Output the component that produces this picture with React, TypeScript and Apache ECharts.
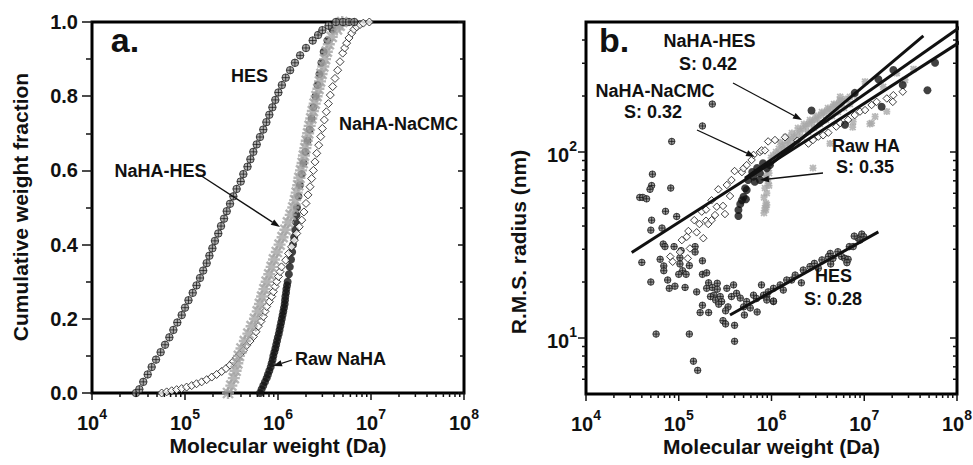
import React, { useEffect, useRef } from 'react';
import * as echarts from 'echarts';

const FONT = '"Liberation Sans", Arial, Helvetica, sans-serif';
const INK = '#111';

// ---------- Panel a: cumulative weight fraction vs molecular weight ----------
const hesA: [number, number][] = [
  [2.97e4, 0], [3.23e4, 0.01], [3.56e4, 0.03], [3.97e4, 0.05], [4.38e4, 0.07], [4.88e4, 0.09], [5.47e4, 0.11],
  [6.1e4, 0.13], [6.79e4, 0.15], [7.5e4, 0.17], [8.27e4, 0.19], [9.21e4, 0.21], [1.0e5, 0.23], [1.09e5, 0.25],
  [1.21e5, 0.27], [1.33e5, 0.29], [1.45e5, 0.31], [1.57e5, 0.33], [1.71e5, 0.35], [1.83e5, 0.37], [1.97e5, 0.39],
  [2.1e5, 0.41], [2.28e5, 0.43], [2.44e5, 0.45], [2.63e5, 0.47], [2.81e5, 0.49], [3.05e5, 0.51], [3.31e5, 0.53],
  [3.59e5, 0.55], [3.97e5, 0.57], [4.24e5, 0.59], [4.7e5, 0.61], [5.05e5, 0.63], [5.43e5, 0.65], [5.9e5, 0.67],
  [6.4e5, 0.69], [6.95e5, 0.71], [7.5e5, 0.73], [8.07e5, 0.75], [8.7e5, 0.77], [9.36e5, 0.79], [1.01e6, 0.81],
  [1.1e6, 0.83], [1.21e6, 0.85], [1.35e6, 0.87], [1.52e6, 0.89], [1.73e6, 0.91], [2.0e6, 0.93], [2.36e6, 0.95],
  [2.7e6, 0.965], [3.0e6, 0.978], [3.5e6, 0.99], [4.2e6, 1.0], [5.0e6, 1.0], [5.8e6, 1.0], [6.6e6, 1.0],
];

const cmcA: [number, number][] = [
  [5.61e4, 0], [6.35e4, 0.003], [7.19e4, 0.006], [8.13e4, 0.009], [9.21e4, 0.012], [1.04e5, 0.016], [1.18e5, 0.02],
  [1.33e5, 0.025], [1.51e5, 0.03], [1.71e5, 0.036], [1.94e5, 0.043], [2.19e5, 0.05], [2.48e5, 0.058], [2.76e5, 0.066],
  [3.05e5, 0.075], [3.31e5, 0.085], [3.59e5, 0.095], [3.9e5, 0.105], [4.24e5, 0.115], [4.6e5, 0.128], [5.0e5, 0.14],
  [5.43e5, 0.152], [5.8e5, 0.165], [6.15e5, 0.18], [6.56e5, 0.193], [6.95e5, 0.206], [7.25e5, 0.22], [7.55e5, 0.233],
  [8.07e5, 0.246], [8.55e5, 0.26], [8.91e5, 0.273], [9.29e5, 0.287], [9.68e5, 0.3], [1.01e6, 0.314], [1.05e6, 0.327],
  [1.09e6, 0.34], [1.21e6, 0.358], [1.3e6, 0.376], [1.4e6, 0.394], [1.5e6, 0.412], [1.59e6, 0.43], [1.69e6, 0.448],
  [1.8e6, 0.466], [1.9e6, 0.488], [2.0e6, 0.511], [2.1e6, 0.534], [2.21e6, 0.556], [2.3e6, 0.578], [2.4e6, 0.6],
  [2.5e6, 0.623], [2.61e6, 0.646], [2.74e6, 0.668], [2.88e6, 0.691], [3.0e6, 0.713], [3.15e6, 0.736], [3.31e6, 0.758],
  [3.48e6, 0.78], [3.65e6, 0.803], [3.87e6, 0.826], [4.1e6, 0.848], [4.38e6, 0.87], [4.64e6, 0.893], [4.96e6, 0.916],
  [5.21e6, 0.93], [5.47e6, 0.943], [5.8e6, 0.957], [6.2e6, 0.97], [6.56e6, 0.98], [7.01e6, 0.987], [7.62e6, 0.993],
  [8.27e6, 0.997], [9.6e6, 1.0],
];

const nahaHesA: [number, number][] = [
  [2.9e5, 0], [3.15e5, 0.02], [3.35e5, 0.04], [3.5e5, 0.06], [3.65e5, 0.08], [3.8e5, 0.1], [4.05e5, 0.12],
  [4.4e5, 0.14], [4.8e5, 0.16], [5.2e5, 0.18], [5.65e5, 0.2], [6.05e5, 0.22], [6.4e5, 0.24], [6.75e5, 0.26],
  [7.15e5, 0.28], [7.55e5, 0.3], [8.05e5, 0.32], [8.55e5, 0.34], [9.05e5, 0.36], [9.7e5, 0.38], [1.04e6, 0.4],
  [1.12e6, 0.42], [1.2e6, 0.44], [1.28e6, 0.46], [1.37e6, 0.48], [1.46e6, 0.5], [1.53e6, 0.52], [1.59e6, 0.54],
  [1.65e6, 0.56], [1.7e6, 0.58], [1.77e6, 0.6], [1.84e6, 0.62], [1.9e6, 0.64], [1.97e6, 0.66], [2.04e6, 0.68],
  [2.11e6, 0.7], [2.19e6, 0.72], [2.28e6, 0.74], [2.37e6, 0.76], [2.48e6, 0.78], [2.6e6, 0.8], [2.72e6, 0.82],
  [2.83e6, 0.84], [2.94e6, 0.86], [3.07e6, 0.88], [3.2e6, 0.9], [3.35e6, 0.92], [3.52e6, 0.94], [3.78e6, 0.96],
  [4.3e6, 0.98], [4.6e6, 0.99], [4.9e6, 1.0],
];

const rawA: [number, number][] = [
  [6.4e5, 0], [6.67e5, 0.01], [6.95e5, 0.02], [7.25e5, 0.03], [7.55e5, 0.04], [7.8e5, 0.05], [8.07e5, 0.06],
  [8.34e5, 0.07], [8.55e5, 0.08], [8.76e5, 0.09], [8.91e5, 0.1], [9.13e5, 0.11], [9.36e5, 0.12], [9.56e5, 0.13],
  [9.76e5, 0.14], [9.96e5, 0.15], [1.02e6, 0.16], [1.04e6, 0.17], [1.06e6, 0.18], [1.08e6, 0.19], [1.1e6, 0.2],
  [1.12e6, 0.21], [1.14e6, 0.22], [1.16e6, 0.23], [1.18e6, 0.24], [1.19e6, 0.25], [1.2e6, 0.26], [1.22e6, 0.27],
  [1.23e6, 0.28], [1.25e6, 0.29], [1.27e6, 0.3], [1.31e6, 0.32], [1.34e6, 0.34], [1.38e6, 0.36], [1.42e6, 0.38],
  [1.45e6, 0.4], [1.49e6, 0.42], [1.53e6, 0.44], [1.56e6, 0.46], [1.58e6, 0.48], [1.6e6, 0.5], [1.66e6, 0.53],
  [1.72e6, 0.56], [1.8e6, 0.59], [1.88e6, 0.62], [1.97e6, 0.65], [2.08e6, 0.68], [2.19e6, 0.71], [2.3e6, 0.74],
  [2.4e6, 0.77], [2.53e6, 0.8], [2.66e6, 0.83], [2.8e6, 0.86], [2.93e6, 0.89], [3.1e6, 0.92], [3.4e6, 0.95],
  [3.85e6, 0.98], [4.5e6, 1.0],
];

// ---------- Panel b: R.M.S. radius vs molecular weight ----------
const hesB: [number, number][] = [
  [2.3e5, 181], [1.8e5, 138], [8.4e4, 114], [5.2e4, 76], [5.1e4, 66], [4.9e4, 63], [3.8e4, 57], [4.1e4, 57],
  [4.5e4, 56], [8.2e4, 64], [7.2e4, 48], [9.5e4, 45], [5.1e4, 43], [5.0e4, 38], [6.6e4, 39], [6.8e4, 32],
  [7.1e4, 31], [8.9e4, 31], [1.06e5, 29.5], [1.03e5, 27], [1.5e5, 31], [1.5e5, 29], [4.0e4, 25.5], [6.3e4, 26.5],
  [6.9e4, 24.4], [6.9e4, 23], [1.03e5, 25], [1.1e5, 23], [1.0e5, 22], [1.2e5, 22], [1.3e5, 24.5], [1.8e5, 26],
  [1.8e5, 22], [2.0e5, 22.4], [5.0e4, 20], [7.6e4, 20.5], [7.9e4, 18.5], [9.1e4, 19], [1.17e5, 18.7], [1.56e5, 17.7],
  [2.1e5, 19.8], [2.0e5, 18.5], [2.3e5, 18.7], [2.6e5, 19.7], [2.6e5, 18.3], [2.4e5, 17], [2.2e5, 16.7], [2.5e5, 16],
  [2.8e5, 16.7], [2.9e5, 15.7], [2.7e5, 15.2], [3.3e5, 18.5], [3.9e5, 19.3], [3.7e5, 16.7], [3.4e5, 14.7],
  [4.2e5, 17.4], [4.6e5, 16.4], [5.0e5, 14.7], [5.4e5, 15.7], [6.4e5, 17], [6.9e5, 16.3], [7.8e5, 19.3],
  [8.9e5, 16.7], [1.05e6, 15.7], [1.8e5, 15], [1.7e5, 13.7], [2.1e5, 13.7], [3.2e5, 14], [3.0e5, 12.4],
  [3.2e5, 11.9], [4.0e5, 11.7], [5.1e5, 13.3], [5.7e4, 10.5], [1.3e5, 10.5], [4.0e5, 9.6], [1.44e5, 7.5],
  [1.6e5, 6.7], [1.34e6, 18.1], [1.65e6, 20.5], [2.1e6, 19.8], [9.2e5, 17.7], [8.2e5, 17], [1.05e6, 18.5],
  [1.24e6, 19.3], [1.46e6, 20.5], [1.8e6, 21.8], [2.2e6, 23.2], [2.6e6, 24.2], [2.9e6, 25.2], [3.5e6, 26.3],
  [3.2e6, 23.7], [4.3e6, 28.5], [4.1e6, 27.4], [4.35e6, 25], [5.2e6, 29.1], [4.6e6, 26.8], [5.7e6, 27.4],
  [6.2e6, 26.8], [6.7e6, 26.5], [6.5e6, 25.4], [6.9e6, 31], [7.6e6, 31], [8.6e6, 34.4], [7.8e6, 35.3],
  [9.4e6, 36.2], [9.9e6, 35], [9.0e6, 33.6], [8.9e5, 16], [1.05e6, 15.8], [5.9e5, 14.5], [7.0e5, 13.8],
];

const cmcB: [number, number][] = [
  [8.1e4, 27.4], [8.6e4, 25.7], [1.08e5, 33.6], [1.22e5, 35], [1.25e5, 26.8], [1.32e5, 30.3], [1.27e5, 37.6],
  [1.47e5, 43], [1.56e5, 37], [1.67e5, 41], [1.77e5, 47.8], [1.84e5, 34.4], [1.97e5, 49], [1.97e5, 42.7],
  [2.08e5, 41], [2.26e5, 43], [2.46e5, 45.8], [2.57e5, 50.8], [3.0e5, 51.3], [3.15e5, 46.4], [2.26e5, 55],
  [2.67e5, 63], [3.3e5, 66.5], [3.57e5, 58], [3.7e5, 70.7], [4.0e5, 79], [4.8e5, 78], [5.0e5, 81.7], [5.4e5, 85],
  [6.1e5, 90.6], [6.4e5, 96.4], [7.5e5, 100], [7.8e5, 102], [8.5e5, 102], [9.2e5, 114], [1.09e6, 116],
  [1.4e6, 120], [1.9e6, 115], [2.5e6, 111], [2.8e6, 116], [3.2e6, 121], [3.6e6, 123], [4.1e6, 127], [5.0e6, 137],
  [5.5e6, 143], [6.7e6, 149], [7.9e6, 158], [9.0e6, 165], [1.02e7, 168], [1.2e7, 179], [1.36e7, 186],
  [1.75e7, 194], [2.06e7, 202], [2.03e7, 186], [2.6e7, 211], [1.03e5, 29],
];

const nahaHesB: [number, number][] = [
  [8.3e5, 47], [8.5e5, 50], [8.7e5, 53], [8.3e5, 57], [8.9e5, 60], [8.5e5, 64], [9.2e5, 68], [8.9e5, 72.5],
  [9.4e5, 77], [9.2e5, 82], [9.6e5, 87], [9.9e5, 93], [1.04e6, 96], [1.12e6, 100], [1.2e6, 104], [1.3e6, 108],
  [1.4e6, 110], [1.51e6, 115], [1.62e6, 117.5], [1.75e6, 120.5], [1.88e6, 125], [2.03e6, 130], [2.19e6, 133],
  [2.35e6, 138], [2.54e6, 141.5], [2.73e6, 145], [2.94e6, 148.6], [3.17e6, 152], [3.42e6, 158], [3.68e6, 162],
  [3.96e6, 166], [4.27e6, 170], [4.6e6, 175], [4.96e6, 179], [5.34e6, 183], [5.75e6, 188], [6.36e6, 193],
  [7.0e6, 198], [7.9e6, 202], [1.17e6, 96], [1.36e6, 102.5], [1.58e6, 109], [1.84e6, 115], [2.13e6, 120.5],
  [2.48e6, 128], [2.87e6, 135], [3.33e6, 141.5], [3.87e6, 148.6], [4.49e6, 156], [5.21e6, 164], [6.05e6, 172.5],
  [7.0e6, 181], [1.24e6, 113], [1.43e6, 120.5], [1.66e6, 126.5], [1.93e6, 134.6], [2.24e6, 141.5], [2.6e6, 148.6],
  [3.02e6, 156], [3.5e6, 164], [4.06e6, 172.5], [4.72e6, 181], [5.48e6, 190], [1.02e7, 239], [1.6e7, 224],
  [3.4e7, 279], [1.31e7, 155], [1.15e7, 141.5], [1.75e7, 165], [7.5e6, 136], [7.6e6, 145.5], [2.8e6, 82],
  [4.27e6, 111], [2.24e7, 265], [1.2e7, 143], [2.75e7, 244], [5.5e6, 198], [8.7e5, 75], [9.4e5, 66], [8.9e5, 52],
  [8.7e5, 49],
];

const rawB: [number, number][] = [
  [4.4e5, 48.8], [4.4e5, 45.3], [4.6e5, 52.5], [4.8e5, 55], [5.0e5, 57.5], [5.3e5, 55.7], [5.4e5, 62.5],
  [5.2e5, 63.8], [5.6e5, 70.7], [6.4e5, 73.7], [6.6e5, 69.2], [7.5e5, 76.8], [7.5e5, 70.7], [8.9e5, 81.7],
  [9.6e5, 85], [6.2e5, 78], [7.0e5, 82], [8.1e5, 87], [2.7e6, 167], [7.9e6, 208], [1.42e7, 246], [2.06e7, 276],
  [5.8e7, 302], [4.8e7, 215], [2.6e7, 229], [1.54e7, 175], [6.2e6, 140],
];

// power-law fits (start and end of each drawn line)
const fitNaCMC: [number, number][] = [[3.11e4, 28.8], [1.49e8, 433]];
const fitRawHA: [number, number][] = [[5.18e5, 72.3], [1.49e8, 525]];
const fitNaHAHES: [number, number][] = [[9.64e5, 85.1], [4.34e7, 421]];
const fitHES: [number, number][] = [[3.57e5, 13.3], [1.42e7, 37.2]];

const yTicksA = [0, 0.2, 0.4, 0.6, 0.8, 1.0];
const decadesX = [1e4, 1e5, 1e6, 1e7, 1e8];
const minorMult = [2, 3, 4, 5, 6, 7, 8, 9];
const yMajorB = [10, 100];
const yMinorB = [6, 7, 8, 9, 20, 30, 40, 50, 60, 70, 80, 90, 200, 300, 400];

const HES_SYMBOL = 'path://M10,0 A10,10 0 1,1 -10,0 A10,10 0 1,1 10,0 Z M-10,0 L10,0 M0,-10 L0,10';
const STAR_SYMBOL = 'path://M0,0 L10,10 M10,0 L0,10 M5,-1 L5,11 M-1,5 L11,5';

const logLabel = (v: number) => {
  const e = Math.log10(v);
  const r = Math.round(e);
  if (Math.abs(e - r) > 1e-6) return '';
  return `{b|10}{s|${r}}`;
};

const richLabel = {
  b: { fontFamily: FONT, fontWeight: 700, fontSize: 20, color: INK, verticalAlign: 'bottom', lineHeight: 26 },
  s: { fontFamily: FONT, fontWeight: 700, fontSize: 14, color: INK, verticalAlign: 'top', lineHeight: 26 },
};

function tickSeries(xIdx: number, yIdx: number, data: number[][]) {
  return {
    type: 'custom',
    xAxisIndex: xIdx,
    yAxisIndex: yIdx,
    clip: false,
    silent: true,
    z: 5,
    data,
    renderItem: (_p: any, api: any) => {
      const p = api.coord([api.value(0), api.value(1)]);
      const len = api.value(2);
      const dir = api.value(3); // 0 = vertical (downwards), 1 = horizontal (leftwards)
      const shape = dir === 0
        ? { x1: p[0], y1: p[1], x2: p[0], y2: p[1] + len }
        : { x1: p[0] - len, y1: p[1], x2: p[0], y2: p[1] };
      return { type: 'line', shape, style: { stroke: INK, lineWidth: 1.5 } };
    },
  };
}

function arrow(x1: number, y1: number, x2: number, y2: number) {
  const dx = x2 - x1, dy = y2 - y1;
  const L = Math.hypot(dx, dy);
  const ux = dx / L, uy = dy / L;
  const hl = 9, hw = 3.2;
  const bx = x2 - ux * hl, by = y2 - uy * hl;
  return [
    { type: 'line', shape: { x1, y1, x2: bx, y2: by }, style: { stroke: INK, lineWidth: 1.3 }, z: 20 },
    {
      type: 'polygon',
      shape: { points: [[x2, y2], [bx - uy * hw, by + ux * hw], [bx + uy * hw, by - ux * hw]] },
      style: { fill: INK }, z: 20,
    },
  ];
}

function label(text: string, x: number, y: number, size = 18, rotation = 0) {
  return {
    type: 'text', x, y, rotation, z: 30,
    style: {
      text, fill: INK, fontFamily: FONT, fontWeight: 'bold', fontSize: size,
      textAlign: 'center', textVerticalAlign: 'middle',
    },
  };
}

export default function App() {
  const ref = useRef<HTMLDivElement>(null);
  useEffect(() => {
    if (!ref.current) return;
    const chart = echarts.init(ref.current, undefined, { renderer: 'svg' });

    const xTicksA: number[][] = [];
    const xTicksB: number[][] = [];
    decadesX.forEach((d) => {
      xTicksA.push([d, 0, 7, 0]);
      xTicksB.push([d, 5, 7, 0]);
      if (d < 1e8) minorMult.forEach((m) => { xTicksA.push([m * d, 0, 4, 0]); xTicksB.push([m * d, 5, 4, 0]); });
    });
    const yTicksB: number[][] = [];
    yMajorB.forEach((v) => { yTicksB.push([1e4, v, 8, 1]); yTicksB.push([1e8, v, 7, 1]); });
    yMinorB.forEach((v) => { yTicksB.push([1e4, v, 4, 1]); yTicksB.push([1e8, v, 4, 1]); });

    const logX = (gridIndex: number) => ({
      type: 'log', logBase: 10, gridIndex, min: 1e4, max: 1e8,
      axisLine: { show: false }, axisTick: { show: false }, splitLine: { show: false },
      axisLabel: { margin: 14, fontWeight: 700, fontSize: 20, fontFamily: FONT, color: INK, formatter: logLabel, rich: richLabel },
      name: 'Molecular weight (Da)', nameLocation: 'middle', nameGap: 42, nameMoveOverlap: false,
      nameTextStyle: { fontFamily: FONT, fontWeight: 'bold', fontSize: 21, color: INK },
    });

    const gridBase = {
      show: true, borderColor: '#000', borderWidth: 3, backgroundColor: 'transparent',
      containLabel: false, outerBoundsMode: 'none',
    };

    const option: any = {
      animation: false,
      backgroundColor: '#fff',
      grid: [
        { ...gridBase, left: 92, top: 22, width: 372, height: 371 },
        { ...gridBase, left: 586, top: 22, width: 371, height: 372 },
      ],
      xAxis: [logX(0), logX(1)],
      yAxis: [
        {
          type: 'value', gridIndex: 0, min: 0, max: 1, interval: 0.2, position: 'left',
          axisLine: { show: false }, splitLine: { show: false },
          axisTick: { show: true, length: 10, lineStyle: { color: INK, width: 1.5 } },
          minorTick: { show: true, splitNumber: 2, length: 6, lineStyle: { color: INK, width: 1.5 } },
          axisLabel: {
            margin: 14, fontFamily: FONT, fontWeight: 'bold', fontSize: 20, color: INK,
            formatter: (v: number) => (yTicksA.some((t) => Math.abs(t - v) < 1e-9) ? v.toFixed(1) : ''),
          },
        },
        {
          type: 'value', gridIndex: 0, min: 0, max: 1, interval: 0.2, position: 'right',
          axisLine: { show: false }, splitLine: { show: false },
          axisTick: { show: true, inside: true, length: 6, lineStyle: { color: INK, width: 1.5 } },
          minorTick: { show: true, splitNumber: 2, length: 4, lineStyle: { color: INK, width: 1.5 } },
          axisLabel: { show: false },
        },
        {
          type: 'log', logBase: 10, gridIndex: 1, min: 5, max: 500, position: 'left',
          axisLine: { show: false }, axisTick: { show: false }, splitLine: { show: false },
          axisLabel: { margin: 9, fontWeight: 700, fontSize: 20, fontFamily: FONT, color: INK, formatter: logLabel, rich: richLabel },
        },
      ],
      series: [
        // panel a
        {
          name: 'Raw NaHA', type: 'scatter', xAxisIndex: 0, yAxisIndex: 0, data: rawA, clip: false,
          symbol: 'circle', symbolSize: 8, itemStyle: { color: '#111' },
        },
        {
          name: 'NaHA-NaCMC', type: 'scatter', xAxisIndex: 0, yAxisIndex: 0, data: cmcA, clip: false,
          symbol: 'diamond', symbolSize: 8, itemStyle: { color: '#fff', borderColor: '#111', borderWidth: 1 },
        },
        {
          name: 'NaHA-HES', type: 'scatter', xAxisIndex: 0, yAxisIndex: 0, data: nahaHesA, clip: false,
          symbol: STAR_SYMBOL, symbolSize: 12, itemStyle: { color: '#a3a3a3', borderColor: '#a3a3a3', borderWidth: 2.4 },
        },
        {
          name: 'HES', type: 'scatter', xAxisIndex: 0, yAxisIndex: 0, data: hesA, clip: false,
          symbol: HES_SYMBOL, symbolSize: 7.5, itemStyle: { color: '#9a9a9a', borderColor: '#111', borderWidth: 0.9 },
        },
        // panel b
        {
          name: 'HES b', type: 'scatter', xAxisIndex: 1, yAxisIndex: 2, data: hesB, clip: false,
          symbol: HES_SYMBOL, symbolSize: 6.5, itemStyle: { color: '#808080', borderColor: '#111', borderWidth: 0.9 },
        },
        {
          name: 'NaHA-HES b', type: 'scatter', xAxisIndex: 1, yAxisIndex: 2, data: nahaHesB, clip: false,
          symbol: STAR_SYMBOL, symbolSize: 7, itemStyle: { color: '#a8a8a8', borderColor: '#a8a8a8', borderWidth: 1.8 },
        },
        {
          name: 'NaHA-NaCMC b', type: 'scatter', xAxisIndex: 1, yAxisIndex: 2, data: cmcB, clip: false,
          symbol: 'diamond', symbolSize: 7.5, itemStyle: { color: '#fff', borderColor: '#111', borderWidth: 1 },
        },
        {
          name: 'Raw HA b', type: 'scatter', xAxisIndex: 1, yAxisIndex: 2, data: rawB, clip: false,
          symbol: 'circle', symbolSize: 8, itemStyle: { color: '#111' },
        },
        ...[fitNaCMC, fitRawHA, fitNaHAHES, fitHES].map((d) => ({
          type: 'line', xAxisIndex: 1, yAxisIndex: 2, data: d, clip: false, symbol: 'none', silent: true,
          lineStyle: { color: '#111', width: 3 }, z: 4,
        })),
        tickSeries(0, 0, xTicksA),
        tickSeries(1, 2, xTicksB),
        tickSeries(1, 2, yTicksB),
      ],
      graphic: [
        label('a.', 125, 40, 34),
        label('b.', 614, 40, 34),
        label('Cumulative weight fraction', 20, 207, 21, Math.PI / 2),
        label('R.M.S. radius (nm)', 518, 242, 21, Math.PI / 2),
        label('HES', 249.5, 75.5),
        label('NaHA-NaCMC', 398.5, 123.5),
        label('NaHA-HES', 160.5, 170.5),
        label('Raw NaHA', 340.5, 358.5),
        ...arrow(200, 175, 280, 227),
        ...arrow(292, 360, 273, 366),
        label('NaHA-HES', 709.5, 40.5),
        label('S: 0.42', 708, 63.5),
        label('NaHA-NaCMC', 655, 90.5),
        label('S: 0.32', 653, 111.5),
        label('Raw HA', 866, 145.5),
        label('S: 0.35', 865, 166.5),
        label('HES', 833.5, 275.5),
        label('S: 0.28', 833, 298.5),
        ...arrow(733, 83, 802, 120),
        ...arrow(697, 130, 755, 157),
        ...arrow(823, 173, 760, 180),
      ],
    };
    chart.setOption(option);
    return () => chart.dispose();
  }, []);
  return (
    <div
      ref={ref}
      style={{ position: 'fixed', left: 0, top: 0, width: 973, height: 465, background: '#fff' }}
    />
  );
}
